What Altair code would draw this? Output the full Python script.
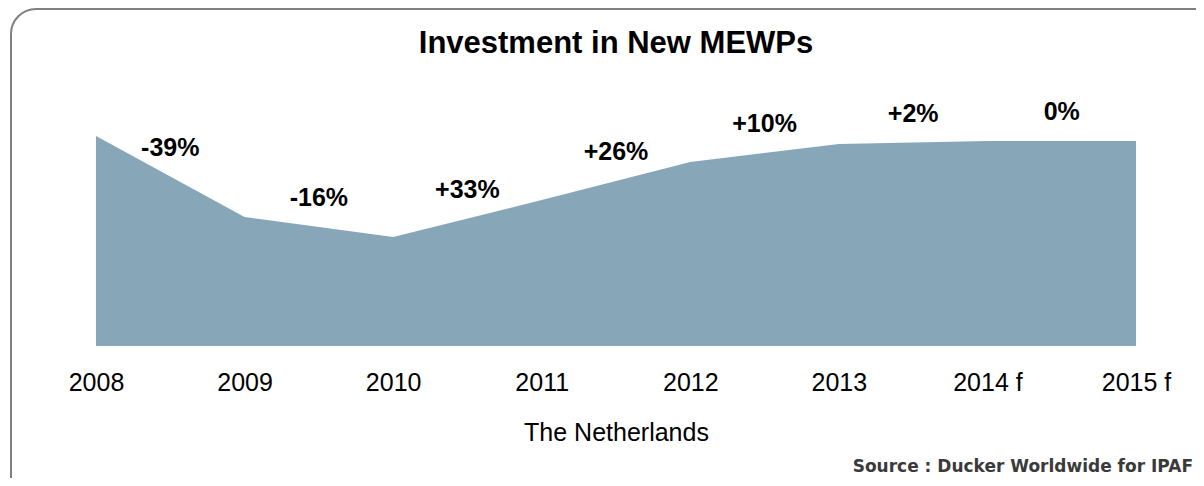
import altair as alt
import pandas as pd

years = ["2008", "2009", "2010", "2011", "2012", "2013", "2014 f", "2015 f"]
investment = [210, 129, 109, 146, 184, 202, 205, 205]
changes = ["-39%", "-16%", "+33%", "+26%", "+10%", "+2%", "0%"]
title_text = "Investment in New MEWPs"
axis_title = "The Netherlands"
source_text = "Source : Ducker Worldwide for IPAF"

df = pd.DataFrame({"idx": list(range(len(years))), "year": years, "value": investment})
lab = pd.DataFrame({
    "mid": [i + 0.5 for i in range(len(changes))],
    "pos": [(investment[i] + investment[i + 1]) / 2 for i in range(len(changes))],
    "label": changes,
})

label_expr = "[" + ",".join("'%s'" % y for y in years) + "][datum.value]"

FONT = "Liberation Sans"

x = alt.X(
    "idx:Q",
    scale=alt.Scale(domain=[0, len(years) - 1], nice=False, zero=False),
    axis=alt.Axis(
        values=list(range(len(years))),
        labelExpr=label_expr,
        title=axis_title,
        ticks=False,
        domain=False,
        grid=False,
        labelFontSize=25,
        labelFont=FONT,
        labelColor="black",
        labelPadding=24,
        labelFlush=False,
        labelOverlap=False,
        titleFontSize=25,
        titleFont=FONT,
        titleFontWeight="normal",
        titleColor="black",
        titlePadding=25,
    ),
)
y = alt.Y("value:Q", scale=alt.Scale(domain=[0, 240], nice=False), axis=None)

border = alt.Chart(pd.DataFrame({"k": [0]})).mark_rect(
    fill="transparent", stroke="#808080", strokeWidth=2, cornerRadius=25
).encode(x=alt.value(-85), x2=alt.value(1200), y=alt.value(-97), y2=alt.value(500))

area = alt.Chart(df).mark_area(color="#87A7B9", interpolate="linear").encode(x=x, y=y)

labels = alt.Chart(lab).mark_text(
    dy=-29, fontSize=25, fontWeight="bold", font=FONT, color="black"
).encode(x=alt.X("mid:Q"), y=alt.Y("pos:Q"), text="label:N")

source = alt.Chart(pd.DataFrame({"t": [source_text]})).mark_text(
    align="right", baseline="middle", font="DejaVu Sans", fontWeight="bold",
    fontSize=17, color="#3a3a3a"
).encode(x=alt.value(1097), y=alt.value(361), text="t:N")

chart = alt.layer(border, area, labels, source).properties(
    width=1040,
    height=240,
    title=alt.Title(
        title_text, fontSize=31, font=FONT, fontWeight="bold", color="black",
        anchor="middle", frame="group", offset=0, dy=76, baseline="alphabetic",
    ),
    padding={"left": 88, "top": 98, "right": 60, "bottom": 132},
    autosize=alt.AutoSizeParams(type="none"),
).configure_view(stroke="transparent")

chart.save("out.html", embed_options={"renderer": "svg", "actions": False})
